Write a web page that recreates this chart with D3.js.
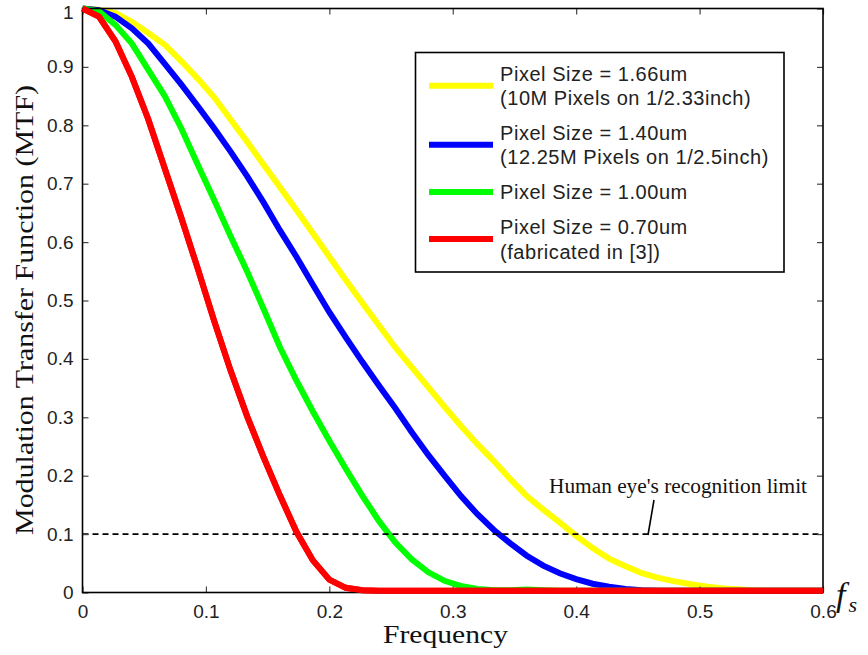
<!DOCTYPE html>
<html lang="en">
<head>
    <meta charset="UTF-8"/>
    <title>MTF vs Frequency</title>
    <script type="text/javascript" src="https://d3js.org/d3.v7.min.js"></script>
    <style>
        body { margin: 0; background: #fff; }
        .tick text { font-family: "Liberation Sans", Arial, sans-serif; font-size: 19px; fill: #222; }
        .tick line { stroke: #444; stroke-width: 1.2; }
    </style>
</head>
<body>
<script type="text/javascript">

    // frequency samples (step 1/75, 0 .. 0.6)
    var freq = d3.range(46).map(function (i) { return i / 75; });

    var mtf166 = [1, 0.998, 0.992, 0.977, 0.958, 0.938, 0.91, 0.88, 0.848, 0.81,
        0.772, 0.733, 0.694, 0.655, 0.615, 0.575, 0.535, 0.496, 0.458, 0.42,
        0.386, 0.352, 0.318, 0.285, 0.254, 0.225, 0.194, 0.165, 0.142, 0.12,
        0.097, 0.076, 0.058, 0.045, 0.033, 0.025, 0.019, 0.014, 0.01, 0.007,
        0.005, 0.003, 0.003, 0.003, 0.003, 0.003];
    var mtf140 = [1, 0.997, 0.986, 0.966, 0.94, 0.905, 0.87, 0.833, 0.795, 0.755,
        0.713, 0.668, 0.62, 0.575, 0.527, 0.48, 0.437, 0.395, 0.355, 0.316,
        0.275, 0.236, 0.2, 0.165, 0.134, 0.107, 0.084, 0.063, 0.046, 0.033,
        0.023, 0.015, 0.01, 0.006, 0.004, 0.003, 0.003, 0.003, 0.003, 0.003,
        0.003, 0.003, 0.003, 0.003, 0.003, 0.003];
    var mtf100 = [1, 0.995, 0.972, 0.94, 0.895, 0.85, 0.795, 0.733, 0.672, 0.61,
        0.55, 0.486, 0.42, 0.363, 0.31, 0.26, 0.212, 0.166, 0.123, 0.086,
        0.057, 0.035, 0.02, 0.011, 0.006, 0.004, 0.004, 0.005, 0.004, 0.003,
        0.003, 0.003, 0.003, 0.003, 0.003, 0.003, 0.003, 0.003, 0.003, 0.003,
        0.003, 0.003, 0.003, 0.003, 0.003, 0.003];
    var mtf070 = [1, 0.986, 0.944, 0.883, 0.81, 0.726, 0.642, 0.555, 0.465, 0.38,
        0.302, 0.232, 0.166, 0.104, 0.055, 0.022, 0.008, 0.004, 0.003, 0.003,
        0.003, 0.003, 0.003, 0.003, 0.003, 0.003, 0.003, 0.003, 0.003, 0.003,
        0.003, 0.003, 0.003, 0.003, 0.003, 0.003, 0.003, 0.003, 0.003, 0.003,
        0.003, 0.003, 0.003, 0.003, 0.003, 0.003];

    var seriesNames = [
        ["Pixel Size = 1.66um", "(10M Pixels on 1/2.33inch)"],
        ["Pixel Size = 1.40um", "(12.25M Pixels on 1/2.5inch)"],
        ["Pixel Size = 1.00um"],
        ["Pixel Size = 0.70um", "(fabricated in [3])"]
    ];
    var seriesColors = ["#ffff00", "#0000ff", "#00ff00", "#ff0000"];
    var seriesValues = [mtf166, mtf140, mtf100, mtf070];

    var xTicks = [0, 0.1, 0.2, 0.3, 0.4, 0.5, 0.6];
    var yTicks = [0, 0.1, 0.2, 0.3, 0.4, 0.5, 0.6, 0.7, 0.8, 0.9, 1];
    var limitValue = 0.1;

    var margin = {top: 8.5, right: 45, bottom: 62.5, left: 82.5},
        width = 868 - margin.left - margin.right,
        height = 655 - margin.top - margin.bottom;

    var x = d3.scaleLinear().domain([0, 0.6]).range([0, width]);
    var y = d3.scaleLinear().domain([0, 1]).range([height, 0]);

    var svg = d3.select("body").append("svg")
        .attr("width", 868)
        .attr("height", 655);

    var main = svg.append("g")
        .attr("transform", "translate(" + margin.left + "," + margin.top + ")");

    var fmt = d3.format(".1~f");
    var serif = "'Liberation Serif', 'Times New Roman', serif";
    var sans = "'Liberation Sans', Arial, sans-serif";

    // the curves
    var line = d3.line()
        .x(function (d) { return x(d[0]); })
        .y(function (d) { return y(d[1]); });

    seriesValues.forEach(function (vals, k) {
        main.append("path")
            .datum(freq.map(function (f, i) { return [f, vals[i]]; }))
            .attr("fill", "none")
            .attr("stroke", seriesColors[k])
            .attr("stroke-width", 6)
            .attr("d", line);
    });

    // recognition limit
    main.append("line")
        .attr("x1", 0).attr("x2", width)
        .attr("y1", y(limitValue)).attr("y2", y(limitValue))
        .attr("stroke", "#000")
        .attr("stroke-width", 1.6)
        .attr("stroke-dasharray", "6,4");

    // axes, ticks pointing inwards
    main.append("g")
        .attr("transform", "translate(0," + height + ")")
        .call(d3.axisBottom(x).tickValues(xTicks).tickFormat(fmt).tickSize(-6).tickSizeOuter(0).tickPadding(12));
    var yAxisG = main.append("g")
        .call(d3.axisLeft(y).tickValues(yTicks).tickFormat(fmt).tickSize(-6).tickSizeOuter(0).tickPadding(9));
    // keep the top label "1" inside the page
    yAxisG.selectAll(".tick text").filter(function (d) { return d === 1; }).attr("dy", "0.5em");
    main.append("g")
        .call(d3.axisTop(x).tickValues(xTicks).tickFormat("").tickSize(-6).tickSizeOuter(0));
    main.append("g")
        .attr("transform", "translate(" + width + ",0)")
        .call(d3.axisRight(y).tickValues(yTicks).tickFormat("").tickSize(-6).tickSizeOuter(0));
    main.selectAll(".domain").remove();

    main.append("rect")
        .attr("width", width)
        .attr("height", height)
        .attr("fill", "none")
        .attr("stroke", "#000")
        .attr("stroke-width", 1.6);

    // red sits on top of the bottom frame, as in the original
    main.append("path")
        .datum(freq.map(function (f, i) { return [f, mtf070[i]]; }))
        .attr("fill", "none")
        .attr("stroke", seriesColors[3])
        .attr("stroke-width", 6)
        .attr("d", line);

    // annotation
    svg.append("text")
        .attr("x", 549).attr("y", 493)
        .attr("font-family", serif)
        .attr("font-size", 20)
        .attr("textLength", 258)
        .attr("lengthAdjust", "spacingAndGlyphs")
        .attr("fill", "#111")
        .text("Human eye's recognition limit");
    svg.append("line")
        .attr("x1", 654).attr("y1", 500)
        .attr("x2", 648).attr("y2", 535)
        .attr("stroke", "#000")
        .attr("stroke-width", 1.6);

    // legend
    var legend = svg.append("g");
    legend.append("rect")
        .attr("x", 415.5).attr("y", 52.5)
        .attr("width", 368.5).attr("height", 219.5)
        .attr("fill", "#fff")
        .attr("stroke", "#000")
        .attr("stroke-width", 1.6);
    var legendY = [85.7, 144.7, 192, 239];
    seriesNames.forEach(function (lines, k) {
        legend.append("line")
            .attr("x1", 429).attr("x2", 493)
            .attr("y1", legendY[k]).attr("y2", legendY[k])
            .attr("stroke", seriesColors[k])
            .attr("stroke-width", 6);
        var first = lines.length > 1 ? legendY[k] - 5 : legendY[k] + 7;
        lines.forEach(function (t, j) {
            legend.append("text")
                .attr("x", 500)
                .attr("y", first + j * 24.5)
                .attr("font-family", sans)
                .attr("font-size", 20)
                .attr("letter-spacing", 0.55)
                .attr("fill", "#222")
                .text(t);
        });
    });

    // axis titles
    svg.append("text")
        .attr("transform", "translate(33,310) rotate(-90)")
        .attr("text-anchor", "middle")
        .attr("font-family", serif)
        .attr("font-size", 26)
        .attr("textLength", 450)
        .attr("lengthAdjust", "spacingAndGlyphs")
        .attr("fill", "#111")
        .text("Modulation Transfer Function (MTF)");
    svg.append("text")
        .attr("x", 445.5)
        .attr("y", 643)
        .attr("text-anchor", "middle")
        .attr("font-family", serif)
        .attr("font-size", 26)
        .attr("textLength", 125)
        .attr("lengthAdjust", "spacingAndGlyphs")
        .attr("fill", "#111")
        .text("Frequency");

    var fs = svg.append("text")
        .attr("x", 836).attr("y", 606)
        .attr("font-family", serif)
        .attr("font-style", "italic")
        .attr("font-size", 34)
        .attr("fill", "#111");
    fs.append("tspan").text("f");
    fs.append("tspan").attr("dx", 3).attr("dy", 6).attr("font-size", 22).text("s");

</script>
</body>
</html>
